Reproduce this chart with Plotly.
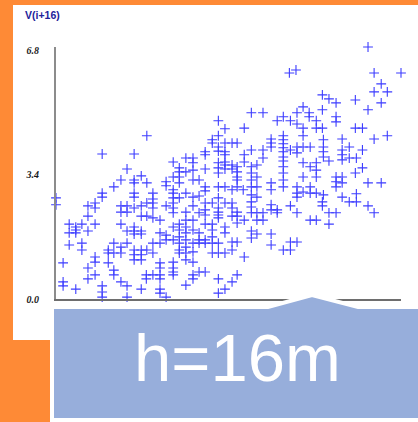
import plotly.graph_objects as go

# h-scatterplot: V(i) (x) versus V(i+16) (y), lag h = 16 m
v_i = [
    3.20,3.33,1.79,3.20,3.08,3.08,3.33,3.47,3.20,3.20,
    0.91,1.54,2.94,2.94,3.33,3.33,2.56,2.70,2.31,2.70,
    2.70,3.20,3.20,3.20,3.33,3.33,3.33,3.47,3.47,2.94,
    2.43,2.43,2.43,2.43,2.56,2.31,1.40,1.68,1.28,1.54,
    1.54,1.79,1.14,2.70,2.82,2.17,2.17,2.31,2.31,2.94,
    2.94,3.20,3.33,3.47,0.91,0.91,1.54,1.54,1.91,1.91,
    2.56,2.70,2.82,2.43,2.31,3.20,0.00,0.00,
    0.63,0.77,0.77,1.28,1.28,1.40,1.40,1.54,1.68,1.79,
    1.91,1.91,2.17,2.31,2.31,2.31,2.56,2.70,2.94,3.08,
    2.94,2.94,3.20,3.20,3.20,3.20,3.33,0.63,1.68,1.79,
    1.91,2.05,0.26,0.39,0.39,0.39,0.26,0.51,0.77,0.63,
    1.28,1.40,1.54,1.54,1.68,1.68,1.54,2.05,2.17,2.31,
    2.43,2.43,2.43,2.56,2.56,2.56,2.56,2.70,2.70,2.82,
    2.82,2.82,2.94,3.08,3.08,3.08,3.33,3.33,0.26,0.51,
    0.51,1.14,1.40,1.03,1.03,1.14,1.28,1.28,1.54,1.54,
    1.54,1.68,1.68,1.68,1.79,1.91,1.91,2.05,2.17,2.31,
    2.43,2.43,2.43,2.56,2.56,2.56,2.70,2.70,2.70,2.82,
    2.94,2.94,3.08,3.08,3.20,3.20,3.33,0.14,0.77,0.77,
    0.63,1.03,1.14,1.14,0.63,0.77,2.05,2.05,2.31,2.31,
    2.31,2.31,1.78,1.78,1.91,2.05,2.05,2.70,2.70,2.82,
    2.94,2.56,0.14,0.14,0.39,0.91,0.91,0.91,1.28,1.40,
    1.68,2.05,2.05,2.17,1.40,3.20,3.20,3.33,
    6.15,4.60,4.73,6.27,6.80,6.41,6.27,6.53,6.41,5.25,
    5.38,5.52,5.90,6.15,4.87,5.25,3.85,4.08,4.75,4.99,
    4.99,4.36,4.48,4.62,4.75,5.13,5.52,5.52,3.71,4.87,
    4.87,5.13,5.25,5.90,6.04,6.27,6.53,3.57,4.24,4.24,
    4.24,4.48,4.48,4.48,4.48,4.48,4.48,4.48,4.48,4.48,
    4.48,4.48,4.62,4.75,4.75,4.87,5.01,5.27,5.27,5.27,
    5.27,5.64,5.64,5.64,5.64,5.78,5.78,5.92,6.04,5.38,
    3.85,4.08,4.08,3.71,3.71,3.57,3.57,3.85,3.85,3.85,
    3.85,3.96,3.96,4.87,5.01,5.13,5.13,5.13,4.87,4.75,
    4.75,5.01,5.13,5.01,3.57,3.57,3.57,3.69,4.24,4.24,
    3.96,3.96,3.85,5.52,5.52,5.64,5.90,6.04,6.15,6.41,
    5.27,5.64,5.92,4.75,5.52,5.64,4.87,
    3.47,3.47,3.47,3.57,3.57,3.57,3.71,3.85,3.85,3.85,
    3.96,3.96,4.08,4.08,4.24,4.24,4.36,4.36,4.62,4.75,
    5.01,5.13,5.25,5.25,5.38,5.52,5.38,5.78,5.92,6.15,
    6.27,3.85,3.85,3.96,4.24,4.24,3.47,3.57,3.47,3.71,
    4.48,4.62,4.62,4.75,3.57,3.47,
]

v_i16 = [
    4.88,4.66,4.47,4.47,4.36,4.27,4.27,4.27,4.16,4.05,
    3.97,3.97,4.03,3.95,4.03,3.95,3.86,3.86,3.75,3.73,
    3.53,3.73,3.59,3.45,3.75,3.67,3.56,3.67,3.56,3.56,
    3.59,3.48,3.34,3.18,3.48,3.34,3.56,3.37,3.26,3.26,
    3.18,3.18,3.07,3.26,3.26,3.21,3.10,2.99,2.90,3.07,
    2.96,3.07,3.07,2.99,2.90,2.79,2.90,2.79,2.90,2.74,
    2.90,2.79,2.82,2.77,2.77,2.77,2.77,2.58,
    2.55,2.63,2.49,2.55,2.38,2.55,2.38,2.49,2.55,2.63,
    2.63,2.49,2.55,2.63,2.49,2.36,2.38,2.55,2.63,2.63,
    2.44,2.30,2.49,2.38,2.30,2.22,2.63,2.27,2.27,2.27,
    2.22,2.16,2.05,1.97,1.89,1.81,1.81,2.05,2.05,1.86,
    2.05,1.86,1.86,1.78,1.86,1.78,1.97,1.81,1.75,1.97,
    2.05,1.89,1.70,2.16,1.97,1.81,1.62,2.16,1.89,2.36,
    1.81,1.62,2.05,2.05,1.89,1.70,1.97,1.81,1.48,1.53,
    1.34,1.53,1.53,1.34,1.26,1.26,1.26,1.42,1.34,1.21,
    1.07,1.34,1.21,1.07,1.34,1.53,1.26,1.53,1.62,1.62,
    1.53,1.34,1.26,1.42,1.26,1.07,1.53,1.29,1.01,1.53,
    1.62,1.53,1.53,1.26,1.53,1.26,1.26,0.99,1.15,1.01,
    0.85,0.99,0.79,0.66,0.55,0.66,0.99,0.85,1.01,0.85,
    0.74,0.66,0.66,0.55,0.66,0.66,0.55,0.66,0.55,0.74,
    0.74,0.38,0.47,0.36,0.27,0.36,0.19,0.05,0.47,0.36,
    0.27,0.27,0.16,0.05,0.05,0.55,0.16,0.27,
    6.90,6.19,6.27,6.19,6.19,5.89,5.67,5.67,5.37,5.59,
    5.48,5.37,5.45,5.18,5.26,5.18,5.10,5.10,5.10,5.10,
    4.99,4.88,4.99,4.88,4.79,4.88,4.99,4.85,4.68,4.68,
    4.47,4.68,4.68,4.68,4.68,4.38,4.47,4.27,4.38,4.27,
    4.16,4.47,4.36,4.25,4.14,4.03,3.89,3.78,3.62,3.45,
    3.26,3.07,4.08,4.16,4.00,4.16,4.16,4.36,4.16,4.03,
    3.89,4.38,4.08,3.95,3.81,4.16,3.86,3.86,4.08,3.78,
    4.08,4.08,3.86,3.95,3.75,3.62,3.48,3.62,3.45,3.26,
    3.07,3.67,3.34,3.73,3.62,3.73,3.53,3.34,3.34,3.07,
    2.90,3.07,2.90,2.90,3.34,3.26,3.07,2.99,3.18,2.99,
    3.07,2.79,2.85,3.34,3.07,3.34,3.45,3.59,3.18,3.18,
    2.85,2.79,2.88,2.79,3.21,3.18,2.93,
    2.63,2.49,2.27,2.38,2.27,2.08,2.16,2.66,2.52,2.36,
    2.36,2.16,2.36,2.16,2.58,2.44,2.44,2.36,2.55,2.36,
    2.16,2.16,2.66,2.55,2.36,2.36,2.05,2.66,2.66,2.55,
    2.36,1.86,1.67,1.78,1.78,1.48,1.56,1.56,1.34,1.15,
    1.34,1.56,1.34,1.56,0.66,0.47,
]

y_tick_values = [0.0, 3.4, 6.8]
y_tick_labels = ["0.0", "3.4", "6.8"]
y_title = "V(i+16)"
callout_text = "h=16m"

n = min(len(v_i), len(v_i16))

W, H = 418, 422
L, R, T, B = 56, 17, 47, 123
PW, PH = W - L - R, H - T - B


def px(x):
    return (x - L) / PW


def py(y):
    return (H - B - y) / PH


fig = go.Figure()
fig.add_trace(go.Scatter(
    x=v_i[:n], y=v_i16[:n], mode="markers",
    marker=dict(symbol="cross-thin", size=7,
                line=dict(color="#3c3cff", width=1.1), color="#3c3cff"),
    cliponaxis=False, hoverinfo="x+y", showlegend=False,
))

orange = "#FE8A36"
blue_box = "#97AEDB"

shapes = [
    dict(type="rect", xref="paper", yref="paper", layer="below",
         x0=px(13), x1=px(420), y0=py(340), y1=py(5),
         fillcolor="white", line=dict(width=0)),
    dict(type="rect", xref="paper", yref="paper", layer="below",
         x0=px(50), x1=px(420), y0=py(424), y1=py(339),
         fillcolor="white", line=dict(width=0)),
]
path = (f"M {px(52)},{py(307)} L {px(268)},{py(307)} L {px(312)},{py(295)} "
        f"L {px(358)},{py(307)} L {px(425)},{py(307)} L {px(425)},{py(420)} "
        f"L {px(52)},{py(420)} Z")
shapes.append(dict(type="path", xref="paper", yref="paper", layer="above",
                   path=path, fillcolor=blue_box,
                   line=dict(color="white", width=4)))

annotations = [
    dict(text=y_title, xref="paper", yref="paper", x=px(23), y=py(14.5),
         xanchor="left", yanchor="middle", showarrow=False,
         font=dict(family="Liberation Sans, Arial", size=10.5,
                   color="#22229a", weight="bold")),
    dict(text=callout_text, xref="paper", yref="paper", x=px(237), y=py(357),
         xanchor="center", yanchor="middle", showarrow=False,
         font=dict(family="Liberation Sans, Arial", size=67, color="white")),
]

fig.update_layout(
    width=W, height=H,
    margin=dict(l=L, r=R, t=T, b=B, pad=0),
    paper_bgcolor=orange, plot_bgcolor="white",
    shapes=shapes, annotations=annotations,
    xaxis=dict(range=[0, 6.8], showgrid=False, zeroline=False,
               showline=True, linecolor="#6e6e6e", linewidth=2,
               showticklabels=False, ticks=""),
    yaxis=dict(range=[0, 6.9], showgrid=False, zeroline=False,
               showline=True, linecolor="#8c8c8c", linewidth=2,
               tickvals=y_tick_values, ticktext=y_tick_labels, ticks="",
               ticklabelstandoff=13,
               tickfont=dict(family="Liberation Serif, Times New Roman",
                             size=10, color="#1a1a1a", weight="bold",
                             style="italic")),
)

fig.write_html(
    "out.html",
    config={"displayModeBar": False},
    post_script="document.body.style.margin='0';document.body.style.padding='0';",
)
